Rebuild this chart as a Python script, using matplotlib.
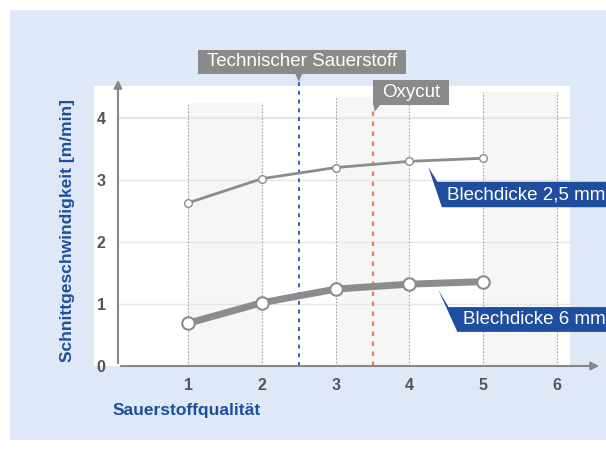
import matplotlib
matplotlib.use("Agg")
import matplotlib.pyplot as plt
from matplotlib.patches import Rectangle, Polygon

plt.rcParams["font.family"] = ["Liberation Sans", "DejaVu Sans"]

# Daten
qualitaet = [1, 2, 3, 4, 5]
speed_25mm = [2.63, 3.02, 3.20, 3.30, 3.35]
speed_6mm = [0.69, 1.02, 1.24, 1.32, 1.36]
x_ticks = [1, 2, 3, 4, 5, 6]
y_ticks = [0, 1, 2, 3, 4]
grenze_technisch = 2.5
grenze_oxycut = 3.5

BLUE = "#1f4e9e"
GRAY = "#8c8c8c"
W, H = 606, 450

fig = plt.figure(figsize=(W / 100, H / 100), dpi=100)
fig.patch.set_facecolor("white")
# hellblauer Hintergrund
fig.patches.append(Rectangle((10 / W, 10 / H), 1, 430 / H, transform=fig.transFigure,
                             facecolor="#dfe8f6", edgecolor="none", zorder=-5))

# Achse: x=0 bei 114 px, 73.8 px pro Einheit; y=0 bei 366 px, 62 px pro Einheit
ax = fig.add_axes([118 / W, 84 / H, (602 - 118) / W, (373 - 84) / H])
ax.set_xlim(0.05, 6.61)
ax.set_ylim(0, 4.66)
ax.patch.set_alpha(0)
for s in ax.spines.values():
    s.set_visible(False)

# weisse Diagrammflaeche
ax.add_patch(Rectangle((-0.27, 0), 6.45, 4.52, facecolor="white", edgecolor="none",
                       zorder=0, clip_on=False))
# graue Baender
band_tops = [4.24, 4.34, 4.42]
for (x0, top) in zip([1, 3, 5], band_tops):
    ax.add_patch(Rectangle((x0, 0), 1, top, facecolor="#f6f6f6", edgecolor="none",
                           zorder=0.5, clip_on=False))
    for xx in (x0, x0 + 1):
        ax.plot([xx, xx], [0, top], color="#a0a0a0", lw=0.8, ls=(0, (1.5, 1.5)),
                zorder=1, clip_on=False)

# horizontale Gitterlinien
for yv in y_ticks[1:]:
    ax.plot([0.05, 6.34], [yv, yv], color="#e6e6e6", lw=1.6 if yv == 4 else 1.0,
            zorder=0.8, clip_on=False)

# senkrechte Grenzlinien
ax.plot([grenze_technisch] * 2, [0, 4.58], color="#2f5fc4", lw=1.4,
        ls=(0, (2.0, 2.5)), zorder=2, clip_on=False)
ax.plot([grenze_oxycut] * 2, [0, 4.16], color="#f07a5a", lw=1.6,
        ls=(0, (2.0, 2.5)), zorder=2, clip_on=False)

# Beschriftungskaesten oben
ax.add_patch(Rectangle((1.13, 4.71), 2.83, 0.39, facecolor="#8a8a8a", edgecolor="none",
                       zorder=3, clip_on=False))
ax.add_patch(Polygon([(2.45, 4.72), (2.55, 4.72), (2.5, 4.58)], closed=True,
                     facecolor="#8a8a8a", edgecolor="none", zorder=3, clip_on=False))
ax.text(2.545, 4.905, "Technischer Sauerstoff", color="white", fontsize=13.5,
        ha="center", va="center", zorder=4, clip_on=False)

ax.add_patch(Rectangle((3.51, 4.21), 1.02, 0.40, facecolor="#8a8a8a", edgecolor="none",
                       zorder=3, clip_on=False))
ax.add_patch(Polygon([(3.51, 4.22), (3.61, 4.22), (3.53, 4.10)], closed=True,
                     facecolor="#8a8a8a", edgecolor="none", zorder=3, clip_on=False))
ax.text(4.02, 4.41, "Oxycut", color="white", fontsize=13.5, ha="center", va="center",
        zorder=4, clip_on=False)

# Kurven
ax.plot(qualitaet, speed_25mm, color=GRAY, lw=2.0, marker="o", ms=5.5,
        mfc="white", mec=GRAY, mew=1.0, zorder=5, clip_on=False)
ax.plot(qualitaet, speed_6mm, color=GRAY, lw=5.0, marker="o", ms=9,
        mfc="white", mec=GRAY, mew=1.5, zorder=5, clip_on=False)

# blaue Legenden-Kaesten
ax.add_patch(Polygon([(4.255, 3.21), (4.38, 2.97), (6.7, 2.97), (6.7, 2.56), (4.44, 2.56)],
                     closed=True, facecolor=BLUE, edgecolor="none", zorder=6, clip_on=False))
ax.text(4.51, 2.765, "Blechdicke 2,5 mm", color="white", fontsize=13.5, ha="left",
        va="center", zorder=7, clip_on=False)
ax.add_patch(Polygon([(4.39, 1.23), (4.53, 0.95), (6.7, 0.95), (6.7, 0.55), (4.65, 0.55)],
                     closed=True, facecolor=BLUE, edgecolor="none", zorder=6, clip_on=False))
ax.text(4.73, 0.755, "Blechdicke 6 mm", color="white", fontsize=13.5, ha="left",
        va="center", zorder=7, clip_on=False)

# Achsen mit Pfeilen
ax.annotate("", xy=(6.61, 0), xytext=(0.05, 0),
            arrowprops=dict(arrowstyle="-|>", color="#888888", lw=1.5, mutation_scale=12),
            annotation_clip=False, zorder=8)
ax.annotate("", xy=(0.05, 4.66), xytext=(0.05, 0),
            arrowprops=dict(arrowstyle="-|>", color="#888888", lw=1.5, mutation_scale=12),
            annotation_clip=False, zorder=8)

ax.set_xticks(x_ticks)
ax.set_yticks(y_ticks)
ax.tick_params(length=0, labelsize=11.5, labelcolor="#555555", pad=9)
for lab in ax.get_xticklabels() + ax.get_yticklabels():
    lab.set_fontweight("bold")

fig.text(68 / W, 1 - 230 / H, "Schnittgeschwindigkeit [m/min]", rotation=90,
         color=BLUE, fontsize=12.5, fontweight="bold", ha="center", va="center")
fig.text(113 / W, 1 - 411 / H, "Sauerstoffqualität", color=BLUE, fontsize=12.5,
         fontweight="bold", ha="left", va="center")

fig.savefig("out.png", dpi=100)
